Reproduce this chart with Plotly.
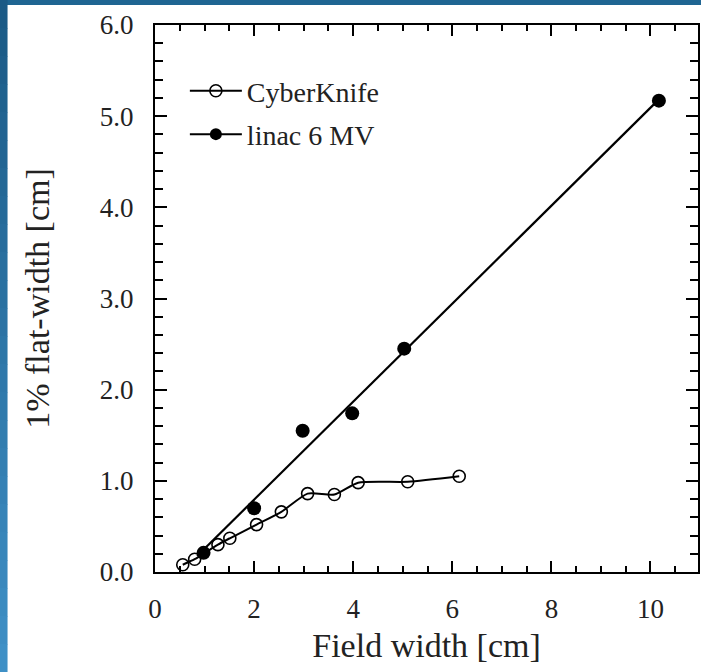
import numpy as np
import plotly.graph_objects as go

# ---- data ----
ck_x = [0.56, 0.80, 1.27, 1.51, 2.05, 2.55, 3.08, 3.62, 4.10, 5.10, 6.14]
ck_y = [0.08, 0.14, 0.30, 0.37, 0.52, 0.66, 0.86, 0.85, 0.98, 0.99, 1.05]

linac_x = [0.98, 2.00, 2.98, 3.98, 5.03, 10.17]
linac_y = [0.21, 0.70, 1.55, 1.74, 2.45, 5.17]

fit_x_start = 0.85  # where the linear fit line begins

series_names = ["CyberKnife", "linac 6 MV"]
x_title = "Field width [cm]"
y_title = "1% flat-width [cm]"

# linear fit for linac
slope, intercept = np.polyfit(linac_x, linac_y, 1)
fit_x = [fit_x_start, max(linac_x)]
fit_y = [slope * v + intercept for v in fit_x]

FONT = "Liberation Serif, Times New Roman, serif"
W, H = 701, 672
L, R, T, B = 155, 1, 25, 100

fig = go.Figure()

fig.add_trace(go.Scatter(
    x=ck_x, y=ck_y, mode="lines+markers", name=series_names[0],
    line=dict(color="black", width=2, shape="spline", smoothing=0.6),
    marker=dict(symbol="circle-open", size=12, color="black", line=dict(width=1.6)),
    legendgroup="a", showlegend=True,
))

fig.add_trace(go.Scatter(
    x=fit_x, y=fit_y, mode="lines", line=dict(color="black", width=2.2),
    showlegend=False, hoverinfo="skip",
))
fig.add_trace(go.Scatter(
    x=linac_x, y=linac_y, mode="markers",
    marker=dict(symbol="circle", size=14, color="black"),
    showlegend=False,
))
fig.add_trace(go.Scatter(
    x=[None], y=[None], mode="lines+markers", name=series_names[1],
    line=dict(color="black", width=2),
    marker=dict(symbol="circle", size=12, color="black"),
    legendgroup="b", showlegend=True,
))

pw = W - L - R
ph = H - T - B
xmax = pw / 49.73


def py(p):
    """pixel-from-top -> paper y"""
    return (H - B - p) / ph


def px(p):
    """pixel-from-left -> paper x"""
    return (p - L) / pw


# decorative blue frame (top strip and left strip)
shapes = []
shapes.append(dict(type="rect", xref="paper", yref="paper",
                   x0=px(0), x1=px(W + 2), y0=py(5), y1=py(-2),
                   fillcolor="#1f6592", line=dict(width=0), layer="below"))
nb = 24
for i in range(nb):
    frac = i / (nb - 1)
    r = int(0x1b + (0x3f - 0x1b) * frac)
    g = int(0x5a + (0x90 - 0x5a) * frac)
    b_ = int(0x86 + (0xc6 - 0x86) * frac)
    shapes.append(dict(type="rect", xref="paper", yref="paper",
                       x0=px(-2), x1=px(7),
                       y0=py((i + 1) * H / nb + 0.5), y1=py(i * H / nb),
                       fillcolor=f"rgb({r},{g},{b_})", line=dict(width=0), layer="below"))

fig.update_layout(
    width=W, height=H,
    margin=dict(l=L, r=R, t=T, b=B, pad=0),
    paper_bgcolor="white", plot_bgcolor="white",
    font=dict(family=FONT, color="#222222", size=26),
    shapes=shapes,
    legend=dict(x=0.055, y=0.925, xanchor="left", yanchor="top",
                bgcolor="rgba(0,0,0,0)", font=dict(family=FONT, size=28, color="#222222"),
                itemwidth=52, tracegroupgap=4, traceorder="grouped"),
    xaxis=dict(range=[0, xmax], dtick=2, tick0=0, ticks="inside", ticklen=11, tickwidth=2,
               tickcolor="black", showline=True, linecolor="black", linewidth=2,
               mirror="ticks", showgrid=False, zeroline=False,
               minor=dict(dtick=0.5, ticks="inside", ticklen=6, tickwidth=2, tickcolor="black"),
               tickfont=dict(family=FONT, size=27, color="#222222"),
               ticklabelstandoff=12,
               title=dict(text=x_title, font=dict(family=FONT, size=34, color="#222222"), standoff=10)),
    yaxis=dict(range=[0, 6], dtick=1, tick0=0, tickformat=".1f", ticks="inside", ticklen=12,
               tickwidth=2, tickcolor="black", showline=True, linecolor="black", linewidth=2,
               mirror="ticks", showgrid=False, zeroline=False,
               minor=dict(dtick=0.2, ticks="inside", ticklen=8, tickwidth=2, tickcolor="black"),
               tickfont=dict(family=FONT, size=27, color="#222222"),
               ticklabelstandoff=14,
               title=dict(text=y_title, font=dict(family=FONT, size=34, color="#222222"), standoff=40)),
)

fig.write_html("out.html",
               config={"displayModeBar": False},
               post_script="document.body.style.margin='0';document.body.style.padding='0';"
                           "document.documentElement.style.overflow='hidden';")
